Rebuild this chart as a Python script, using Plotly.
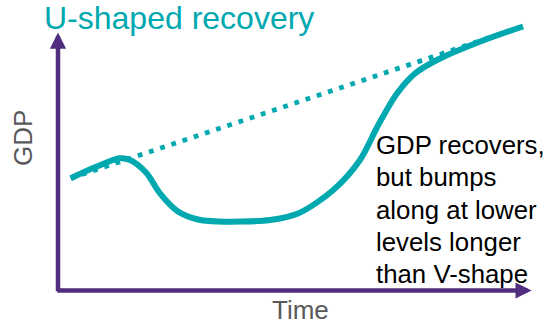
import plotly.graph_objects as go

# U-shaped recovery: time vs GDP (arbitrary units, origin at the axes corner)
time_u = [12.7, 37, 62, 72, 88, 102, 120, 140, 160, 212, 240, 275.3, 302, 320, 339, 357,
          380, 425, 465]
gdp_u = [112.2, 123.2, 132.2, 130.5, 118, 97.2, 79, 71, 69, 70.5, 77, 100.5, 130.5, 165,
         197, 217, 231, 250, 264]

# Pre-shock trend line
time_trend = [12.7, 465]
gdp_trend = [112.2, 264]

# Annotation lines
note_lines = ["GDP recovers,", "but bumps", "along at lower", "levels longer", "than V-shape"]

TEAL = "#00A8B0"
PURPLE = "#512D7F"
GREY = "#595959"
FONT = "Arial, Liberation Sans, sans-serif"

fig = go.Figure()

fig.add_trace(go.Scatter(
    x=time_trend, y=gdp_trend, mode="lines",
    line=dict(color=TEAL, width=4.8, dash="4.8px,7px"),
    hoverinfo="skip",
))
fig.add_trace(go.Scatter(
    x=time_u, y=gdp_u, mode="lines",
    line=dict(color=TEAL, width=6, shape="spline", smoothing=0.9),
    hoverinfo="skip",
))

annotations = [
    # axes drawn as arrows
    dict(x=0, y=258, ax=0, ay=-2.2, xref="x", yref="y", axref="x", ayref="y",
         showarrow=True, arrowhead=2, arrowsize=0.72, arrowwidth=4.5,
         arrowcolor=PURPLE, text=""),
    dict(x=473.7, y=0, ax=-2.2, ay=0, xref="x", yref="y", axref="x", ayref="y",
         showarrow=True, arrowhead=2, arrowsize=0.72, arrowwidth=4.5,
         arrowcolor=PURPLE, text=""),
    dict(x=-16, y=272.9, xref="x", yref="y", text="U-shaped recovery",
         showarrow=False, xanchor="left", yanchor="middle",
         font=dict(family=FONT, size=32, color=TEAL)),
    dict(x=242, y=-19.5, xref="x", yref="y", text="Time", showarrow=False,
         xanchor="center", yanchor="middle",
         font=dict(family=FONT, size=26, color=GREY)),
    dict(x=-35, y=152.5, xref="x", yref="y", text="GDP", showarrow=False,
         textangle=-90, xanchor="center", yanchor="middle",
         font=dict(family=FONT, size=26, color=GREY)),
]

line_y = [145.5, 113.25, 81, 48.75, 16.5]
for txt, yy in zip(note_lines, line_y):
    annotations.append(dict(
        x=316, y=yy, xref="x", yref="y", text=txt, showarrow=False,
        xanchor="left", yanchor="middle",
        font=dict(family=FONT, size=25.8, color="#000000"),
    ))

fig.update_layout(
    width=547, height=328,
    margin=dict(l=0, r=0, t=0, b=0),
    paper_bgcolor="white", plot_bgcolor="white",
    showlegend=False,
    xaxis=dict(range=[-58, 489], visible=False, fixedrange=True),
    yaxis=dict(range=[-37.5, 290.5], visible=False, fixedrange=True),
    annotations=annotations,
)

fig.write_html("out.html")
